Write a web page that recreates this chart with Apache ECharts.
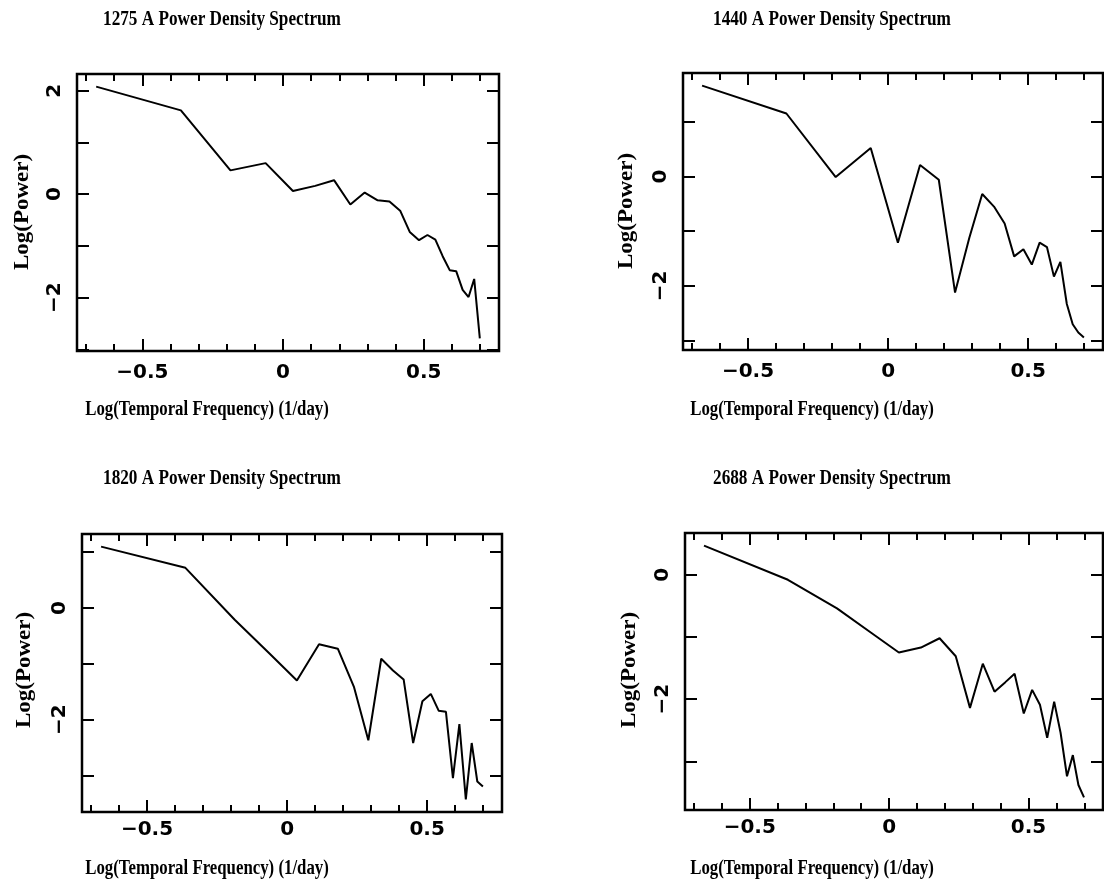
<!DOCTYPE html>
<html>
<head>
<meta charset="utf-8">
<script src="https://cdn.jsdelivr.net/npm/echarts@6/dist/echarts.min.js"></script>
<style>
  html, body { margin: 0; padding: 0; background: #ffffff; }
  #chart { width: 1104px; height: 890px; }
</style>
</head>
<body>
<div id="chart"></div>
<script>
// Log10 of the sampled temporal frequencies (1/day), shared by all four bands
const logFreq = [-0.664, -0.363, -0.187, -0.062, 0.035, 0.114, 0.181, 0.239, 0.290, 0.336, 0.378, 0.416,
                 0.450, 0.483, 0.513, 0.541, 0.567, 0.592, 0.615, 0.638, 0.659, 0.679, 0.699];

// Log10 power in each band
const power1275 = [2.08, 1.62, 0.46, 0.60, 0.06, 0.16, 0.27, -0.20, 0.03, -0.12, -0.14, -0.32,
                   -0.73, -0.89, -0.79, -0.88, -1.20, -1.47, -1.49, -1.85, -1.99, -1.64, -2.79];
const power1440 = [1.66, 1.15, -0.01, 0.52, -1.21, 0.21, -0.06, -2.12, -1.12, -0.32, -0.55, -0.86,
                   -1.46, -1.33, -1.61, -1.21, -1.29, -1.83, -1.56, -2.33, -2.70, -2.85, -2.94];
const power1820 = [1.10, 0.72, -0.21, -0.82, -1.30, -0.65, -0.73, -1.42, -2.37, -0.91, -1.12, -1.28,
                   -2.42, -1.67, -1.54, -1.84, -1.86, -3.05, -2.08, -3.43, -2.42, -3.11, -3.20];
const power2688 = [0.47, -0.08, -0.54, -0.94, -1.25, -1.17, -1.02, -1.31, -2.14, -1.43, -1.88, -1.73,
                   -1.59, -2.23, -1.85, -2.09, -2.62, -2.04, -2.54, -3.24, -2.90, -3.38, -3.58];

// Tick positions and labelled values
const xMajorTicks = [-0.5, 0, 0.5];
const xMinorTicks = [-0.7, -0.6, -0.5, -0.4, -0.3, -0.2, -0.1, 0, 0.1, 0.2, 0.3, 0.4, 0.5, 0.6, 0.7];
const yTicks1275 = [-3, -2, -1, 0, 1, 2];
const yLabels1275 = [-2, 0, 2];
const yTicks1440 = [-3, -2, -1, 0, 1];
const yLabels1440 = [-2, 0];
const yTicks1820 = [-3, -2, -1, 0, 1];
const yLabels1820 = [-2, 0];
const yTicks2688 = [-3, -2, -1, 0];
const yLabels2688 = [-2, 0];

const titles = ['1275 A Power Density Spectrum', '1440 A Power Density Spectrum',
                '1820 A Power Density Spectrum', '2688 A Power Density Spectrum'];
const xName = 'Log(Temporal Frequency) (1/day)';
const yName = 'Log(Power)';

// Panel layout
const panels = [
  { title: titles[0], values: power1275, yTicks: yTicks1275, yLabels: yLabels1275,
    box: { left: 77, top: 74, width: 422, height: 277 }, titleAt: [222, 20], xNameAt: [207, 410], yNameAt: [23, 212], xLabelMargin: 12 },
  { title: titles[1], values: power1440, yTicks: yTicks1440, yLabels: yLabels1440,
    box: { left: 683, top: 73, width: 420, height: 277 }, titleAt: [832, 20], xNameAt: [812, 410], yNameAt: [627, 211], xLabelMargin: 12 },
  { title: titles[2], values: power1820, yTicks: yTicks1820, yLabels: yLabels1820,
    box: { left: 82, top: 534, width: 420, height: 278 }, titleAt: [222, 479], xNameAt: [207, 869], yNameAt: [25, 670], xLabelMargin: 8 },
  { title: titles[3], values: power2688, yTicks: yTicks2688, yLabels: yLabels2688,
    box: { left: 685, top: 533, width: 418, height: 277 }, titleAt: [832, 479], xNameAt: [812, 869], yNameAt: [630, 670], xLabelMargin: 8 }
];

const serif = "'Liberation Serif', 'DejaVu Serif', serif";
const sans = "'DejaVu Sans', 'Liberation Sans', sans-serif";
const fmt = v => (v < 0 ? '\u2212' + String(-v) : String(Math.abs(v)));

// Axis extent: data range padded by 5% on each side
function padded(arr) {
  const lo = Math.min(...arr), hi = Math.max(...arr);
  const p = 0.05 * (hi - lo);
  return [lo - p, hi + p];
}
const xExt = padded(logFreq);

const grid = [], xAxis = [], yAxis = [], series = [], graphic = [];
const tickStyle = { color: '#000', width: 2 };
const hiddenLine = { show: false, onZero: false };

panels.forEach((pn, i) => {
  grid.push(Object.assign({
    show: true, borderColor: '#000', borderWidth: 2.5, backgroundColor: 'transparent',
    containLabel: false, outerBoundsMode: 'none'
  }, pn.box));

  const yExt = padded(pn.values);
  const baseX = { type: 'value', gridIndex: i, min: xExt[0], max: xExt[1],
                  splitLine: { show: false }, axisLine: hiddenLine };
  // bottom: major ticks + labels
  xAxis.push(Object.assign({}, baseX, {
    position: 'bottom',
    axisTick: { show: true, inside: true, length: 12, lineStyle: tickStyle, customValues: xMajorTicks },
    axisLabel: { show: true, customValues: xMajorTicks, formatter: fmt, margin: pn.xLabelMargin,
                 color: '#000', fontFamily: sans, fontWeight: 'bold', fontSize: 20 }
  }));
  // bottom: minor ticks
  xAxis.push(Object.assign({}, baseX, {
    position: 'bottom',
    axisTick: { show: true, inside: true, length: 7, lineStyle: tickStyle, customValues: xMinorTicks },
    axisLabel: { show: false }
  }));
  // top: major and minor ticks
  xAxis.push(Object.assign({}, baseX, {
    position: 'top',
    axisTick: { show: true, inside: true, length: 12, lineStyle: tickStyle, customValues: xMajorTicks },
    axisLabel: { show: false }
  }));
  xAxis.push(Object.assign({}, baseX, {
    position: 'top',
    axisTick: { show: true, inside: true, length: 7, lineStyle: tickStyle, customValues: xMinorTicks },
    axisLabel: { show: false }
  }));

  const baseY = { type: 'value', gridIndex: i, min: yExt[0], max: yExt[1],
                  splitLine: { show: false }, axisLine: hiddenLine };
  yAxis.push(Object.assign({}, baseY, {
    position: 'left',
    axisTick: { show: true, inside: true, length: 12, lineStyle: tickStyle, customValues: pn.yTicks },
    axisLabel: { show: true, customValues: pn.yLabels, formatter: fmt, rotate: 90, margin: 12,
                 color: '#000', fontFamily: sans, fontWeight: 'bold', fontSize: 20 }
  }));
  yAxis.push(Object.assign({}, baseY, {
    position: 'right',
    axisTick: { show: true, inside: true, length: 12, lineStyle: tickStyle, customValues: pn.yTicks },
    axisLabel: { show: false }
  }));

  series.push({
    type: 'line', xAxisIndex: 4 * i, yAxisIndex: 2 * i,
    data: logFreq.map((f, k) => [f, pn.values[k]]),
    showSymbol: false, symbol: 'none', smooth: false, animation: false,
    lineStyle: { color: '#000', width: 2 }
  });

  // Panel title and axis names (tall, narrow serif lettering)
  graphic.push({
    type: 'text', x: pn.titleAt[0], y: pn.titleAt[1], scaleX: 0.86,
    style: { text: pn.title, align: 'center', verticalAlign: 'middle', fill: '#000',
             font: "bold 20px " + serif }
  });
  graphic.push({
    type: 'text', x: pn.xNameAt[0], y: pn.xNameAt[1], scaleX: 0.84,
    style: { text: xName, align: 'center', verticalAlign: 'middle', fill: '#000',
             font: "bold 20px " + serif }
  });
  graphic.push({
    type: 'text', x: pn.yNameAt[0], y: pn.yNameAt[1], rotation: Math.PI / 2, scaleX: 1.15,
    style: { text: yName, align: 'center', verticalAlign: 'middle', fill: '#000',
             font: "bold 20px " + serif }
  });
});

const chart = echarts.init(document.getElementById('chart'), null, { renderer: 'canvas' });
chart.setOption({
  backgroundColor: '#ffffff',
  animation: false,
  grid, xAxis, yAxis, series, graphic
});
</script>
</body>
</html>
